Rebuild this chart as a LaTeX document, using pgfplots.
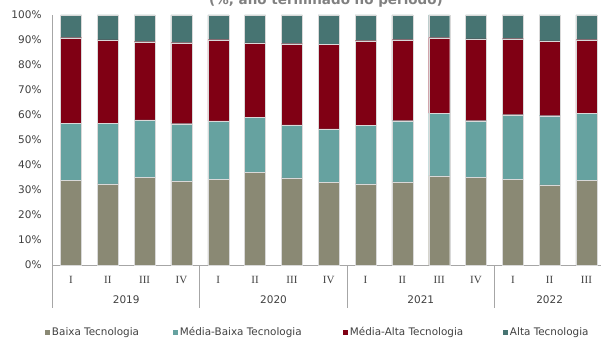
\documentclass[border=0pt]{standalone}
\usepackage{fontspec}
\setmainfont{DejaVu Sans}
\newfontfamily\qfont{Liberation Serif}
\usepackage{pgfplots}
\pgfplotsset{compat=1.18}
\usepackage{pgfplotstable}
\definecolor{cBaixa}{HTML}{8A8974}
\definecolor{cMB}{HTML}{66A2A0}
\definecolor{cMA}{HTML}{800014}
\definecolor{cAlta}{HTML}{477472}
\definecolor{axgray}{HTML}{A6A6A6}
\definecolor{txt}{HTML}{404040}
\definecolor{ttl}{HTML}{808080}
\pgfplotstableread{
x b mb ma a
0 33.9 22.8 34.2 9.1
1 32.5 24.2 33.3 10.0
2 35.2 22.8 31.3 10.7
3 33.7 22.8 32.4 11.1
4 34.3 23.3 32.5 9.9
5 37.1 22.0 29.7 11.2
6 34.9 21.1 32.5 11.5
7 33.1 21.3 33.9 11.7
8 32.5 23.4 33.8 10.3
9 33.3 24.4 32.4 9.9
10 35.7 25.0 30.2 9.1
11 35.2 22.5 32.7 9.6
12 34.4 25.7 30.4 9.5
13 32.1 27.6 29.9 10.4
14 33.9 26.8 29.4 9.9
}\data
\begin{document}
\begin{tikzpicture}
\begin{axis}[
 scale only axis, width=548.6bp, height=250bp,
 xmin=-0.5, xmax=14.4, ymin=0, ymax=100,
 ybar stacked, bar width=21bp,
 axis lines*=left,
 axis line style={draw=axgray, line width=0.8bp},
 major tick length=0pt,
 ytick={0,10,...,100},
 yticklabel={\pgfmathprintnumber{\tick}\%},
 /pgf/number format/assume math mode=true,
 yticklabel style={inner sep=0pt, anchor=east, xshift=-10.9bp, text=txt, font=\fontsize{10.5bp}{12bp}\selectfont},
 xtick={0,...,14},
 xticklabels={I,II,III,IV,I,II,III,IV,I,II,III,IV,I,II,III},
 xticklabel style={inner sep=0pt, anchor=north, yshift=-11.5bp, font=\qfont\fontsize{11bp}{12bp}\selectfont, text=txt},
 clip=false,
 legend columns=4,
 legend style={draw=none, fill=none, inner sep=0pt, outer sep=0pt,
   at={(0,0)}, anchor=west, xshift=-7.6bp, yshift=-67bp,
   font=\fontsize{10.4bp}{12bp}\selectfont, text=txt,
   nodes={inner sep=0pt},
   /tikz/every odd column/.append style={column sep=2bp}},
 legend image code/.code={\fill[#1,draw=none] (0bp,-2.5bp) rectangle (5bp,2.5bp);},
]
\addplot[fill=cBaixa, draw=white!70!gray, line width=0.4bp] table[x=x,y=b]{\data};
\addlegendentry{\makebox[121bp][l]{Baixa Tecnologia}}
\addplot[fill=cMB, draw=white!70!gray, line width=0.4bp] table[x=x,y=mb]{\data};
\addlegendentry{\makebox[163bp][l]{Média-Baixa Tecnologia}}
\addplot[fill=cMA, draw=white!70!gray, line width=0.4bp] table[x=x,y=ma]{\data};
\addlegendentry{\makebox[153bp][l]{Média-Alta Tecnologia}}
\addplot[fill=cAlta, draw=white!70!gray, line width=0.4bp] table[x=x,y=a]{\data};
\addlegendentry{Alta Tecnologia}
\pgfplotsinvokeforeach{-0.5,3.5,7.5,11.5}{
  \draw[axgray, line width=0.8bp] (axis cs:#1,0) -- ([yshift=-43bp]axis cs:#1,0);
}
\node[font=\fontsize{10.5bp}{12bp}\selectfont, text=txt] at (axis cs:1.5,0) [yshift=-35bp] {2019};
\node[font=\fontsize{10.5bp}{12bp}\selectfont, text=txt] at (axis cs:5.5,0) [yshift=-35bp] {2020};
\node[font=\fontsize{10.5bp}{12bp}\selectfont, text=txt] at (axis cs:9.5,0) [yshift=-35bp] {2021};
\node[font=\fontsize{10.5bp}{12bp}\selectfont, text=txt] at (axis cs:13,0) [yshift=-35bp] {2022};
\end{axis}
\node[font=\bfseries\fontsize{13.5bp}{15bp}\selectfont, text=ttl, anchor=base] at (273.4bp,260bp) {(\%, ano terminado no período)};
\pgfresetboundingbox
\useasboundingbox (-52.6bp,-73bp) rectangle (549.4bp,265bp);
\end{tikzpicture}
\end{document}
